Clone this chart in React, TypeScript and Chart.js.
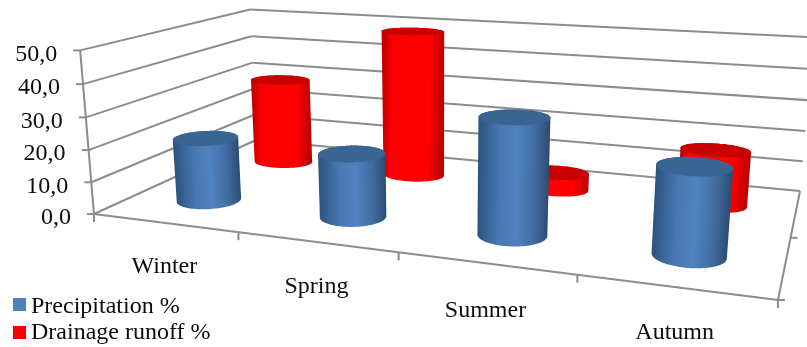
import React, { useEffect, useRef } from "react";
import { Chart, registerables } from "chart.js";

Chart.register(...registerables);

const categories = ["Winter", "Spring", "Summer", "Autumn"];
const precipitation = [20, 19.5, 34.5, 25];
const drainageRunoff = [29.5, 49, 5.5, 17.5];
const seriesNames = ["Precipitation %", "Drainage runoff %"];
const yMax = 50;
const yStep = 10;

const FONT = '24px "Liberation Serif"';
const GRID = "#8c8c8c";
const TEXT = "#0c0c0c";

// Floor corners of the box and the vertical vanishing point of the camera.
const FLOOR = [
  [94, 214],
  [778, 300],
  [800, 191],
  [256, 140],
];
const VANISH = [440, 4300];
const WALL_SCALE = -0.0385;

// Cylinder footprint per series, in fractions of the floor's width and depth.
const RADIUS_U = [0.05, 0.053];
const RADIUS_V = [0.1, 0.085];

// Extra drop of each category label below the floor edge.
const LABEL_DROP = [44, 45, 47, 46];

const LEGEND_ROWS = [
  { swatch: 298, baseline: 313 },
  { swatch: 326, baseline: 339 },
];

const PALETTE = [
  {
    legend: "#4f81bd",
    cap: "#3a6492",
    stops: [
      [0, "#2c527c"],
      [0.3, "#4878b2"],
      [0.55, "#5082c0"],
      [0.8, "#426ca0"],
      [1, "#2a4c70"],
    ],
  },
  {
    legend: "#ff0000",
    cap: "#c80000",
    stops: [
      [0, "#be0000"],
      [0.14, "#fa0000"],
      [0.75, "#ff0000"],
      [1, "#b90000"],
    ],
  },
];

function makeProjector() {
  const [[x0, y0], [x1, y1], [x2, y2], [x3, y3]] = FLOOR;
  const dx1 = x1 - x2;
  const dx2 = x3 - x2;
  const dy1 = y1 - y2;
  const dy2 = y3 - y2;
  const sx = x0 - x1 + x2 - x3;
  const sy = y0 - y1 + y2 - y3;
  const den = dx1 * dy2 - dx2 * dy1;
  const g = (sx * dy2 - dx2 * sy) / den;
  const h = (dx1 * sy - sx * dy1) / den;
  const a = x1 - x0 + g * x1;
  const b = x3 - x0 + h * x3;
  const d = y1 - y0 + g * y1;
  const e = y3 - y0 + h * y3;
  // u runs along the categories, v into the depth, t up the value axis; all 0..1.
  return (u: number, v: number, t: number) => {
    const w = g * u + h * v + 1 + t * WALL_SCALE;
    return [
      (a * u + b * v + x0 + t * WALL_SCALE * VANISH[0]) / w,
      (d * u + e * v + y0 + t * WALL_SCALE * VANISH[1]) / w,
    ];
  };
}

function segment(ctx: CanvasRenderingContext2D, a: number[], b: number[]) {
  ctx.beginPath();
  ctx.moveTo(a[0], a[1]);
  ctx.lineTo(b[0], b[1]);
  ctx.stroke();
}

function convexHull(points: number[][]) {
  const pts = [...points].sort((p, q) => p[0] - q[0] || p[1] - q[1]);
  const cross = (o: number[], a: number[], b: number[]) =>
    (a[0] - o[0]) * (b[1] - o[1]) - (a[1] - o[1]) * (b[0] - o[0]);
  const half = (list: number[][]) => {
    const out: number[][] = [];
    for (const p of list) {
      while (out.length > 1 && cross(out[out.length - 2], out[out.length - 1], p) <= 0) out.pop();
      out.push(p);
    }
    out.pop();
    return out;
  };
  return [...half(pts), ...half([...pts].reverse())];
}

function tracePolygon(ctx: CanvasRenderingContext2D, pts: number[][]) {
  ctx.beginPath();
  pts.forEach((p, i) => (i ? ctx.lineTo(p[0], p[1]) : ctx.moveTo(p[0], p[1])));
  ctx.closePath();
}

function drawCylinder(
  ctx: CanvasRenderingContext2D,
  project: (u: number, v: number, t: number) => number[],
  u: number,
  v: number,
  t: number,
  radiusU: number,
  radiusV: number,
  look: (typeof PALETTE)[number],
) {
  const N = 96;
  const ring = (tt: number) =>
    Array.from({ length: N }, (_, i) => {
      const a = (i / N) * Math.PI * 2;
      return project(u + radiusU * Math.cos(a), v + radiusV * Math.sin(a), tt);
    });
  const bottom = ring(0);
  const top = ring(t);

  // The shaded side runs across the silhouette, from its left to its right edge.
  const middle = ring(t / 2);
  const left = middle.reduce((m, p) => (p[0] < m[0] ? p : m));
  const right = middle.reduce((m, p) => (p[0] > m[0] ? p : m));
  const gradient = ctx.createLinearGradient(left[0], left[1], right[0], right[1]);
  for (const [offset, color] of look.stops) gradient.addColorStop(offset as number, color as string);
  ctx.fillStyle = gradient;
  tracePolygon(ctx, convexHull([...bottom, ...top]));
  ctx.fill();

  ctx.fillStyle = look.cap;
  tracePolygon(ctx, top);
  ctx.fill();
}

// Replaces the flat bars with a perspective box and cylinders, still driven by the chart's scales.
const cylinderScene = {
  id: "cylinderScene",
  beforeDatasetsDraw(chart: any) {
    const { ctx, scales } = chart;
    const xs = scales.x;
    const ys = scales.y;
    const project = makeProjector();
    const level = (value: number) => ys.getDecimalForPixel(ys.getPixelForValue(value));
    const count = chart.data.labels.length;
    const depths = chart.data.datasets.length;

    ctx.save();
    ctx.lineCap = "butt";
    ctx.strokeStyle = GRID;
    ctx.lineWidth = 2;

    // Gridlines on the side and back walls.
    for (const tick of ys.ticks) {
      const t = level(tick.value);
      const front = project(0, 0, t);
      const corner = project(0, 1, t);
      segment(ctx, front, corner);
      segment(ctx, corner, project(1, 1, t));
    }

    // Value axis and its tick marks.
    segment(ctx, project(0, 0, 0), project(0, 0, 1));
    ctx.font = FONT;
    ctx.fillStyle = TEXT;
    ctx.textAlign = "right";
    ctx.textBaseline = "middle";
    for (const tick of ys.ticks) {
      const p = project(0, 0, level(tick.value));
      segment(ctx, [p[0] - 7, p[1]], p);
      ctx.fillText(tick.label, p[0] - 23, p[1] + 4);
    }

    // Category axis along the front of the floor.
    ctx.textAlign = "center";
    segment(ctx, project(0, 0, 0), project(1, 0, 0));
    segment(ctx, project(1, 0, 0), project(1, 1, 0));
    for (let i = 0; i <= count; i++) {
      const p = project(i / count, 0, 0);
      segment(ctx, p, [p[0], p[1] + 8]);
    }
    const labelAt = (i: number) => xs.getDecimalForPixel(xs.getPixelForValue(i));
    chart.data.labels.forEach((label: string, i: number) => {
      const p = project(labelAt(i), 0, 0);
      ctx.fillText(label, p[0], p[1] + LABEL_DROP[i]);
    });

    // Depth axis tick marks on the right of the floor.
    for (const v of [0, 0.5]) {
      const p = project(1, v, 0);
      segment(ctx, p, [p[0] + 7, p[1]]);
    }

    // Far series first so the near cylinders overlap it.
    for (let d = depths - 1; d >= 0; d--) {
      const dataset = chart.data.datasets[d];
      dataset.data.forEach((value: number, i: number) => {
        drawCylinder(ctx, project, labelAt(i), (d + 0.5) / depths, level(value), RADIUS_U[d], RADIUS_V[d], PALETTE[d]);
      });
    }

    // Legend in the lower-left corner.
    ctx.textAlign = "left";
    ctx.textBaseline = "alphabetic";
    chart.data.datasets.forEach((dataset: any, d: number) => {
      ctx.fillStyle = PALETTE[d].legend;
      ctx.fillRect(13, LEGEND_ROWS[d].swatch, 13, 13);
      ctx.fillStyle = TEXT;
      ctx.fillText(dataset.label, 31, LEGEND_ROWS[d].baseline);
    });
    ctx.restore();
    return false;
  },
};

export default function App() {
  const canvasRef = useRef<HTMLCanvasElement>(null);

  useEffect(() => {
    document.body.style.margin = "0";
    const chart = new Chart(canvasRef.current!, {
      type: "bar",
      data: {
        labels: categories,
        datasets: [
          { label: seriesNames[0], data: precipitation, backgroundColor: PALETTE[0].legend },
          { label: seriesNames[1], data: drainageRunoff, backgroundColor: PALETTE[1].legend },
        ],
      },
      options: {
        responsive: false,
        animation: false,
        events: [],
        plugins: { legend: { display: false }, tooltip: { enabled: false } },
        scales: {
          x: { display: false },
          y: {
            display: false,
            min: 0,
            max: yMax,
            ticks: {
              stepSize: yStep,
              callback: (value: any) => Number(value).toFixed(1).replace(".", ","),
            },
          },
        },
      },
      plugins: [cylinderScene],
    });
    return () => chart.destroy();
  }, []);

  return (
    <div style={{ position: "absolute", left: 0, top: 0, width: 807, height: 347, background: "#fff" }}>
      <canvas ref={canvasRef} width={807} height={347} style={{ display: "block" }} />
    </div>
  );
}
